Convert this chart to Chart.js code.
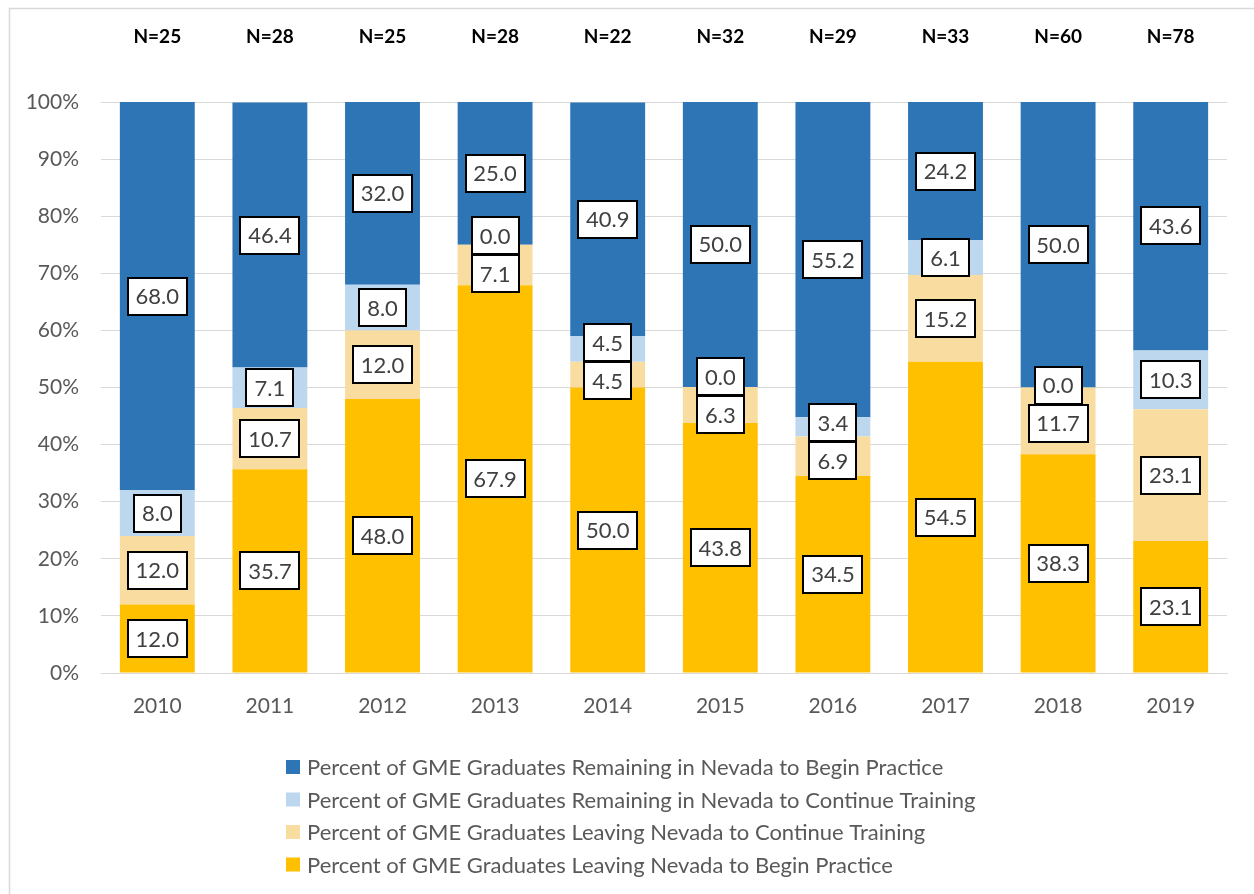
<!DOCTYPE html>
<html>
<head>
<meta charset="utf-8">
<script src="https://cdn.jsdelivr.net/npm/chart.js@4.4.1/dist/chart.umd.min.js"></script>
<style>
  body { margin: 0; background: #fff; }
  canvas { display: block; }
</style>
</head>
<body>
<canvas id="gme-chart" width="1254" height="894"></canvas>
<script>
// chart data
const years = ["2010", "2011", "2012", "2013", "2014", "2015", "2016", "2017", "2018", "2019"];
const sampleSizes = [25, 28, 25, 28, 22, 32, 29, 33, 60, 78];
const leavingPractice = [12.0, 35.7, 48.0, 67.9, 50.0, 43.8, 34.5, 54.5, 38.3, 23.1];
const leavingTraining = [12.0, 10.7, 12.0, 7.1, 4.5, 6.3, 6.9, 15.2, 11.7, 23.1];
const remainingTraining = [8.0, 7.1, 8.0, 0.0, 4.5, 0.0, 3.4, 6.1, 0.0, 10.3];
const remainingPractice = [68.0, 46.4, 32.0, 25.0, 40.9, 50.0, 55.2, 24.2, 50.0, 43.6];
const yTicks = [0, 10, 20, 30, 40, 50, 60, 70, 80, 90, 100];

const FONT = "Lato, 'Open Sans', sans-serif";
const GREY_TEXT = "#595959";

// outer frame + N= labels above each bar
const framePlugin = {
  id: "frame",
  beforeDraw(chart) {
    const ctx = chart.ctx;
    ctx.save();
    ctx.fillStyle = "#fff";
    ctx.fillRect(0, 0, chart.width, chart.height);
    ctx.strokeStyle = "#d9d9d9";
    ctx.lineWidth = 1.5;
    ctx.strokeRect(9.5, 8.5, chart.width + 10, chart.height + 10);
    ctx.restore();
  },
  afterDraw(chart) {
    const ctx = chart.ctx;
    const x = chart.scales.x;
    ctx.save();
    ctx.font = "bold 19px " + FONT;
    ctx.fillStyle = "#000";
    ctx.textAlign = "center";
    ctx.textBaseline = "middle";
    sampleSizes.forEach((n, i) => {
      ctx.fillText("N=" + n, x.getPixelForValue(i), 37);
    });
    ctx.restore();
  }
};

// boxed value labels, pushed apart when they collide (like Excel does)
const boxLabels = {
  id: "boxLabels",
  afterDatasetsDraw(chart) {
    const ctx = chart.ctx;
    const boxH = 37, minGap = 38;
    ctx.save();
    ctx.font = "22px " + FONT;
    ctx.textAlign = "center";
    ctx.textBaseline = "middle";
    years.forEach((yr, i) => {
      let items = [];
      chart.data.datasets.forEach((ds, d) => {
        const bar = chart.getDatasetMeta(d).data[i];
        items.push({ x: bar.x, y: (bar.y + bar.base) / 2, text: ds.data[i].toFixed(1) });
      });
      items.sort((a, b) => a.y - b.y);
      for (let it = 0; it < 30; it++) {
        for (let k = 0; k < items.length - 1; k++) {
          const gap = items[k + 1].y - items[k].y;
          if (gap < minGap) {
            const push = (minGap - gap) / 2;
            items[k].y -= push;
            items[k + 1].y += push;
          }
        }
      }
      items.forEach(it => {
        const w = Math.round(ctx.measureText(it.text).width) + 16;
        const bx = Math.round(it.x - w / 2), by = Math.round(it.y - boxH / 2);
        ctx.fillStyle = "#fff";
        ctx.fillRect(bx, by, w, boxH);
        ctx.strokeStyle = "#000";
        ctx.lineWidth = 2;
        ctx.strokeRect(bx, by, w, boxH);
        ctx.fillStyle = "#404040";
        ctx.fillText(it.text, it.x, it.y + 1);
      });
    });
    ctx.restore();
  }
};

// vertical legend under the chart, top series first
const stackLegend = {
  id: "stackLegend",
  afterDraw(chart) {
    const ctx = chart.ctx;
    const left = 286, top = chart.chartArea.bottom + 94, step = 32.5;
    ctx.save();
    ctx.font = "22px " + FONT;
    ctx.textBaseline = "middle";
    const list = chart.data.datasets.slice().reverse();
    list.forEach((ds, k) => {
      const y = top + k * step;
      ctx.fillStyle = ds.backgroundColor;
      ctx.fillRect(left, y - 7, 14, 14);
      ctx.fillStyle = GREY_TEXT;
      ctx.fillText(ds.label, left + 21, y + 1);
    });
    ctx.restore();
  }
};

const ctx = document.getElementById("gme-chart").getContext("2d");

new Chart(ctx, {
  type: "bar",
  data: {
    labels: years,
    datasets: [
      { label: "Percent of GME Graduates Leaving Nevada to Begin Practice", data: leavingPractice, backgroundColor: "#FFC000" },
      { label: "Percent of GME Graduates Leaving Nevada to Continue Training", data: leavingTraining, backgroundColor: "#F9DDA0" },
      { label: "Percent of GME Graduates Remaining in Nevada to Continue Training", data: remainingTraining, backgroundColor: "#BDD7EE" },
      { label: "Percent of GME Graduates Remaining in Nevada to Begin Practice", data: remainingPractice, backgroundColor: "#2E75B6" }
    ]
  },
  options: {
    responsive: false,
    animation: false,
    barPercentage: 0.665,
    categoryPercentage: 1,
    layout: { padding: { left: 0, right: 27, top: 102, bottom: 171 } },
    plugins: {
      legend: { display: false },
      tooltip: { enabled: false }
    },
    scales: {
      x: {
        stacked: true,
        afterFit(scale) { scale.height = 50; },
        grid: { display: false },
        border: { color: "#d9d9d9" },
        ticks: { color: GREY_TEXT, font: { family: FONT, size: 21 }, padding: 13 }
      },
      y: {
        stacked: true,
        min: 0,
        max: 100,
        afterFit(scale) { scale.width = 101; },
        afterBuildTicks(scale) { scale.ticks = yTicks.map(v => ({ value: v })); },
        grid: { color: "#d9d9d9", drawTicks: false },
        border: { display: false },
        ticks: {
          color: GREY_TEXT,
          font: { family: FONT, size: 21 },
          padding: 22,
          callback: v => v + "%"
        }
      }
    }
  },
  plugins: [framePlugin, boxLabels, stackLegend]
});
</script>
</body>
</html>
